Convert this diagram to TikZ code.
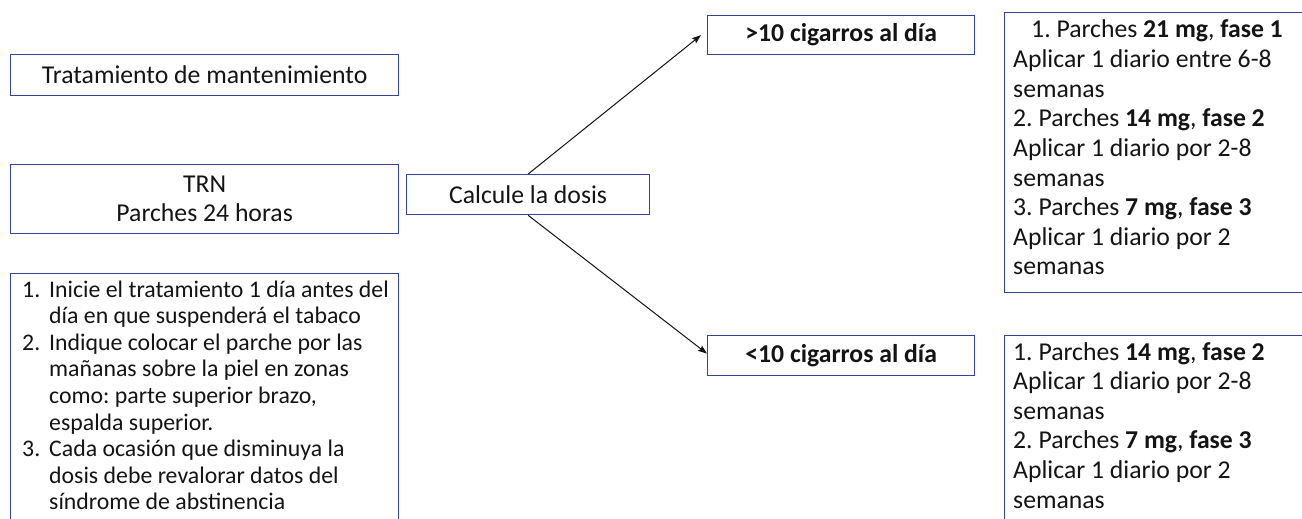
\documentclass[tikz,border=0pt]{standalone}
\usepackage{fontspec}
\setmainfont{Carlito}
\usetikzlibrary{arrows.meta}
\definecolor{boxblue}{HTML}{34449A}
\definecolor{ink}{HTML}{141414}
\frenchspacing

\begin{document}
\begin{tikzpicture}[x=1pt,y=-1pt,
  box/.style={draw=boxblue, line width=1.3pt, inner sep=0pt, anchor=north west,
    text=ink, font=\fontsize{25.7pt}{29pt}\selectfont, align=center},
  line/.style={anchor=base west, inner sep=0pt, text=ink,
    font=\fontsize{25.7pt}{30pt}\selectfont},
  cline/.style={line, anchor=base},
  listline/.style={line, font=\fontsize{23.8pt}{27pt}\selectfont},
  conn/.style={draw=ink, line width=1pt, -{Stealth[length=9pt,width=6.5pt,inset=1.5pt]}}]

\useasboundingbox (0,0) rectangle (1302,519);
\clip (0,0) rectangle (1302,519);
\fill[white] (0,0) rectangle (1302,519);

% left column
\node[box, minimum width=388pt, minimum height=41pt] (mant) at (10,54)
  {Tratamiento de mantenimiento};
\node[box, minimum width=388pt, minimum height=69pt] (trn) at (10,164)
  {TRN\\Parches 24 horas};
\node[box, minimum width=388pt, minimum height=270pt] (pasos) at (10,273) {};

% numbered instructions
\foreach \n/\txt [count=\k from 0] in {
  1./Inicie el tratamiento 1 día antes del,
  /día en que suspenderá el tabaco,
  2./Indique colocar el parche por las,
  /mañanas sobre la piel en zonas,
  /como: parte superior brazo{,},
  /espalda superior.,
  3./Cada ocasión que disminuya la,
  /dosis debe revalorar datos del,
  /síndrome de abstinencia} {
  \node[listline] (pnum-\k) at (22,297+26.6*\k) {\n};
  \node[listline] (ptxt-\k) at (49,297+26.6*\k) {\txt};
}

% dose decision
\node[box, minimum width=243pt, minimum height=40pt] (calc) at (406,174)
  {Calcule la dosis};
\node[box, minimum width=267pt, minimum height=39pt, font=\fontsize{25.7pt}{29pt}\selectfont\bfseries]
  (mas) at (707,15) {>10 cigarros al día};
\node[box, minimum width=267pt, minimum height=40pt, font=\fontsize{25.7pt}{29pt}\selectfont\bfseries]
  (menos) at (707,335) {<10 cigarros al día};

% schedules
\node[box, minimum width=306pt, minimum height=280pt] (esq1) at (1004,12) {};
\node[box, minimum width=306pt, minimum height=200pt] (esq2) at (1004,335) {};

\node[cline] (e1-0) at (1157,38) {1. Parches \textbf{21 mg}, \textbf{fase 1}};
\foreach \txt [count=\k] in {
  Aplicar 1 diario entre 6-8,
  semanas,
  2. Parches \textbf{14 mg}{,} \textbf{fase 2},
  Aplicar 1 diario por 2-8,
  semanas,
  3. Parches \textbf{7 mg}{,} \textbf{fase 3},
  Aplicar 1 diario por 2,
  semanas} {
  \node[line] (e1-\k) at (1013,38+29.6*\k) {\txt};
}

\foreach \txt [count=\k from 0] in {
  1. Parches \textbf{14 mg}{,} \textbf{fase 2},
  Aplicar 1 diario por 2-8,
  semanas,
  2. Parches \textbf{7 mg}{,} \textbf{fase 3},
  Aplicar 1 diario por 2,
  semanas} {
  \node[line] (e2-\k) at (1013,360+29.6*\k) {\txt};
}

% connectors
\coordinate (masTip) at ([xshift=-6pt]mas.west);
\coordinate (menosTip) at ([yshift=2pt]menos.west);
\draw[conn] (calc.north) -- (masTip);
\draw[conn] (calc.south) -- (menosTip);

\end{tikzpicture}
\end{document}
